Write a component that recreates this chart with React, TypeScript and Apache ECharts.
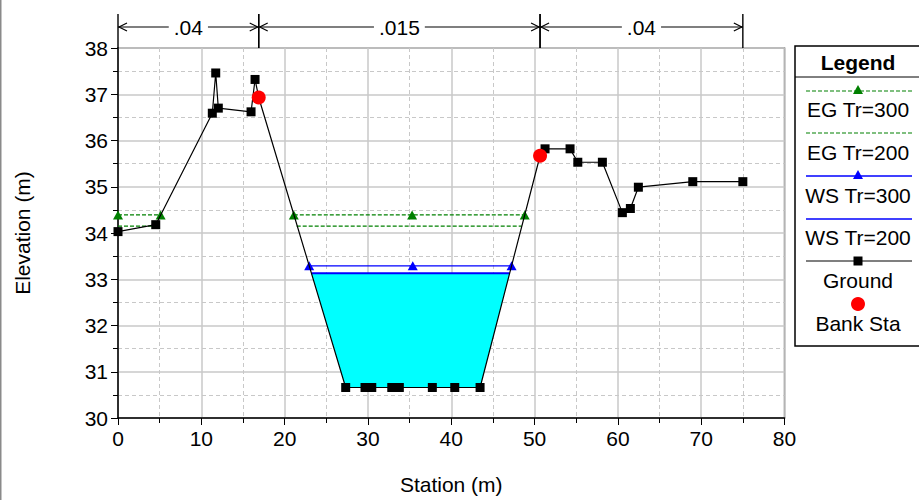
import React, { useEffect, useRef } from "react";
import * as echarts from "echarts";

// ---- data ----
const groundX = [0, 4.53, 11.32, 11.73, 12.04, 15.97, 16.45, 16.89, 27.33, 29.65, 30.46, 32.86, 33.77, 37.73, 40.42, 43.46, 50.66, 51.26, 54.26, 55.19, 58.14, 60.54, 61.5, 62.46, 68.99, 75];
const groundY = [34.03, 34.18, 36.59, 37.46, 36.7, 36.62, 37.32, 36.93, 30.66, 30.66, 30.66, 30.66, 30.66, 30.66, 30.66, 30.66, 35.67, 35.82, 35.82, 35.53, 35.53, 34.44, 34.53, 34.99, 35.11, 35.11];
const bankX = [16.89, 50.66];
const bankY = [36.93, 35.67];
const eg300X: (number | null)[] = [0, 5.12, null, 21.1, 35.3, 48.82];
const eg300Level = 34.39;
const eg200X: (number | null)[] = [0, 4.65, null, 21.45, 48.46];
const eg200Level = 34.15;
const ws300X = [22.95, 35.38, 47.24];
const ws300Level = 33.29;
const ws200X = [23.22, 47.01];
const ws200Level = 33.13;
const nStations = [0, 16.89, 50.66, 75];
const nValues = [".04", ".015", ".04"];
const legendNames = ["EG Tr=300", "EG Tr=200", "WS Tr=300", "WS Tr=200", "Ground", "Bank Sta"];

const FONT = "Liberation Sans, Arial, Helvetica, sans-serif";
const FS = 21;
const GREEN = "#008000";
const BLUE = "#0000ff";

function levelData(xs: (number | null)[], level: number) {
  return xs.map((x) => (x === null ? ["-", "-"] : [x, level]));
}

function waterPolygon(level: number): number[][] {
  const n = groundY.length;
  let lo = 0;
  for (let k = 0; k < n; k++) if (groundY[k] < groundY[lo]) lo = k;
  let i = lo;
  while (i > 0 && groundY[i - 1] < level) i--;
  const a = i - 1;
  const xl = groundX[a] + ((level - groundY[a]) / (groundY[i] - groundY[a])) * (groundX[i] - groundX[a]);
  let j = lo;
  while (j < n - 1 && groundY[j + 1] < level) j++;
  const b = j + 1;
  const xr = groundX[j] + ((level - groundY[j]) / (groundY[b] - groundY[j])) * (groundX[b] - groundX[j]);
  const pts: number[][] = [[xl, level]];
  for (let k = i; k <= j; k++) pts.push([groundX[k], groundY[k]]);
  pts.push([xr, level]);
  return pts;
}

function legendGraphic() {
  const left = 795;
  const top = 46;
  const cx = 858;
  const x1 = 806;
  const x2 = 912;
  const els: any[] = [];
  els.push({ type: "rect", shape: { x: left, y: top, width: 140, height: 300 }, style: { fill: "#fff", stroke: "#000", lineWidth: 1.5 }, z: 10 });
  els.push({ type: "line", shape: { x1: left, y1: 77, x2: 919, y2: 77 }, style: { stroke: "#000", lineWidth: 1 }, z: 11 });
  els.push({ type: "text", style: { text: "Legend", x: cx, y: 62, align: "center", verticalAlign: "middle", font: `bold ${FS}px ${FONT}`, fill: "#000" }, z: 11 });
  const lineYs = [91, 133, 176, 219, 261, 304];
  const textYs = [109, 152, 195, 237, 280, 323];
  const styles = [
    { stroke: GREEN, lineDash: [4, 2], lineWidth: 1.2, marker: "tri", mc: GREEN },
    { stroke: GREEN, lineDash: [4, 2], lineWidth: 1.2, marker: null, mc: null },
    { stroke: BLUE, lineDash: null, lineWidth: 1.3, marker: "tri", mc: BLUE },
    { stroke: BLUE, lineDash: null, lineWidth: 1.3, marker: null, mc: null },
    { stroke: "#000", lineDash: null, lineWidth: 1.2, marker: "sq", mc: "#000" },
    { stroke: null, lineDash: null, lineWidth: 0, marker: "circ", mc: "#ff0000" },
  ];
  legendNames.forEach((name, k) => {
    const s = styles[k];
    const y = lineYs[k];
    if (s.stroke) {
      els.push({ type: "line", shape: { x1, y1: y, x2, y2: y }, style: { stroke: s.stroke, lineWidth: s.lineWidth, lineDash: s.lineDash || undefined }, z: 11 });
    }
    if (s.marker === "tri") {
      els.push({ type: "polygon", shape: { points: [[cx, y - 6], [cx - 5, y + 3], [cx + 5, y + 3]] }, style: { fill: s.mc }, z: 12 });
    } else if (s.marker === "sq") {
      els.push({ type: "rect", shape: { x: cx - 4.5, y: y - 4.5, width: 9, height: 9 }, style: { fill: s.mc }, z: 12 });
    } else if (s.marker === "circ") {
      els.push({ type: "circle", shape: { cx, cy: y, r: 7 }, style: { fill: s.mc }, z: 12 });
    }
    els.push({ type: "text", style: { text: name, x: cx, y: textYs[k], align: "center", verticalAlign: "middle", font: `${FS}px ${FONT}`, fill: "#000" }, z: 12 });
  });
  els.push({ type: "rect", shape: { x: 0, y: 0, width: 1.5, height: 500 }, style: { fill: "#8a8a8a" }, z: 12 });
  return els;
}

export default function App() {
  const ref = useRef<HTMLDivElement>(null);
  useEffect(() => {
    if (!ref.current) return;
    const chart = echarts.init(ref.current, undefined, { renderer: "svg" });
    const poly = waterPolygon(ws200Level);
    const axisCommon = {
      type: "value" as const,
      axisLine: { show: true, lineStyle: { color: "#000", width: 1.5 } },
      axisTick: { show: true, inside: false, length: 7, lineStyle: { color: "#000", width: 1 } },
      minorTick: { show: true, splitNumber: 2, length: 5, lineStyle: { color: "#000", width: 1 } },
      splitLine: { show: true, lineStyle: { color: "#c8c8c8", width: 1.5 } },
      minorSplitLine: { show: true, lineStyle: { color: "#c8c8c8", width: 1, type: [4, 3] } },
      axisLabel: { color: "#000", fontSize: FS, fontFamily: FONT },
      nameLocation: "middle" as const,
      nameTextStyle: { color: "#000", fontSize: FS, fontFamily: FONT },
    };
    chart.setOption({
      animation: false,
      backgroundColor: "#fff",
      textStyle: { fontFamily: FONT },
      grid: { left: 118, right: 134.5, top: 48, bottom: 80, show: true, borderColor: "#777", borderWidth: 1.5, backgroundColor: "transparent" },
      xAxis: { ...axisCommon, min: 0, max: 80, interval: 10, name: "Station (m)", nameGap: 56, axisLabel: { ...axisCommon.axisLabel, margin: 10 } },
      yAxis: { ...axisCommon, min: 30, max: 38, interval: 1, name: "Elevation (m)", nameGap: 85, axisLabel: { ...axisCommon.axisLabel, margin: 10 } },
      series: [
        {
          type: "custom",
          name: "water",
          clip: true,
          z: 1,
          data: [[poly[0][0], poly[0][1]]],
          renderItem: (_p: any, api: any) => ({
            type: "polygon",
            shape: { points: poly.map((pt) => api.coord(pt)) },
            style: { fill: "#00ffff" },
          }),
          silent: true,
        },
        {
          type: "line",
          name: "EG Tr=200",
          data: levelData(eg200X, eg200Level),
          symbol: "none",
          itemStyle: { color: GREEN },
          lineStyle: { color: GREEN, width: 1.2, type: [4, 2] },
          connectNulls: false,
          z: 3,
        },
        {
          type: "line",
          name: "EG Tr=300",
          data: levelData(eg300X, eg300Level),
          symbol: "triangle",
          symbolSize: [10, 9],
          itemStyle: { color: GREEN, borderWidth: 0 },
          lineStyle: { color: GREEN, width: 1.2, type: [4, 2] },
          connectNulls: false,
          z: 4,
        },
        {
          type: "line",
          name: "WS Tr=200",
          data: levelData(ws200X, ws200Level),
          symbol: "none",
          itemStyle: { color: BLUE },
          lineStyle: { color: BLUE, width: 2.2 },
          z: 3,
        },
        {
          type: "line",
          name: "WS Tr=300",
          data: levelData(ws300X, ws300Level),
          symbol: "triangle",
          symbolSize: [10, 9],
          itemStyle: { color: BLUE, borderWidth: 0 },
          lineStyle: { color: BLUE, width: 1.2 },
          z: 4,
        },
        {
          type: "line",
          name: "Ground",
          data: groundX.map((x, i) =>
            bankX.indexOf(x) >= 0 ? { value: [x, groundY[i]], symbol: "none" } : { value: [x, groundY[i]] }
          ),
          symbol: "rect",
          symbolSize: 9,
          showAllSymbol: true,
          itemStyle: { color: "#000", borderWidth: 0 },
          lineStyle: { color: "#000", width: 1.2 },
          z: 5,
        },
        {
          type: "scatter",
          name: "Bank Sta",
          data: bankX.map((x, i) => [x, bankY[i]]),
          symbol: "circle",
          symbolSize: 14,
          itemStyle: { color: "#ff0000", borderWidth: 0, opacity: 1 },
          z: 6,
        },
        {
          type: "custom",
          name: "n values",
          clip: false,
          z: 7,
          silent: true,
          data: nValues.map((_v, i) => [nStations[i], nStations[i + 1], i]),
          renderItem: (_p: any, api: any) => {
            const xa = api.value(0);
            const xb = api.value(1);
            const label = nValues[api.value(2)];
            const pa = api.coord([xa, 38]);
            const pb = api.coord([xb, 38]);
            const top = pa[1];
            const yl = top - 21;
            const yt = top - 34;
            const st = { stroke: "#000", lineWidth: 1.4, fill: null };
            return {
              type: "group",
              children: [
                { type: "line", shape: { x1: pa[0], y1: yt, x2: pa[0], y2: top }, style: st },
                { type: "line", shape: { x1: pb[0], y1: yt, x2: pb[0], y2: top }, style: st },
                { type: "line", shape: { x1: pa[0], y1: yl, x2: pb[0], y2: yl }, style: { stroke: "#000", lineWidth: 1.2 } },
                { type: "polyline", shape: { points: [[pa[0] + 9, yl - 4], [pa[0] + 1, yl], [pa[0] + 9, yl + 4]] }, style: { stroke: "#000", lineWidth: 1.2, fill: null } },
                { type: "polyline", shape: { points: [[pb[0] - 9, yl - 4], [pb[0] - 1, yl], [pb[0] - 9, yl + 4]] }, style: { stroke: "#000", lineWidth: 1.2, fill: null } },
                {
                  type: "text",
                  style: {
                    text: label,
                    x: (pa[0] + pb[0]) / 2,
                    y: yl,
                    align: "center",
                    verticalAlign: "middle",
                    font: `${FS}px ${FONT}`,
                    fill: "#000",
                    backgroundColor: "#fff",
                    padding: [0, 5],
                  },
                },
              ],
            };
          },
        },
      ],
      graphic: legendGraphic(),
    });
    return () => chart.dispose();
  }, []);
  return (
    <div style={{ position: "fixed", left: 0, top: 0, width: 919, height: 500, background: "#fff" }}>
      <div ref={ref} style={{ width: 919, height: 500 }} />
    </div>
  );
}
